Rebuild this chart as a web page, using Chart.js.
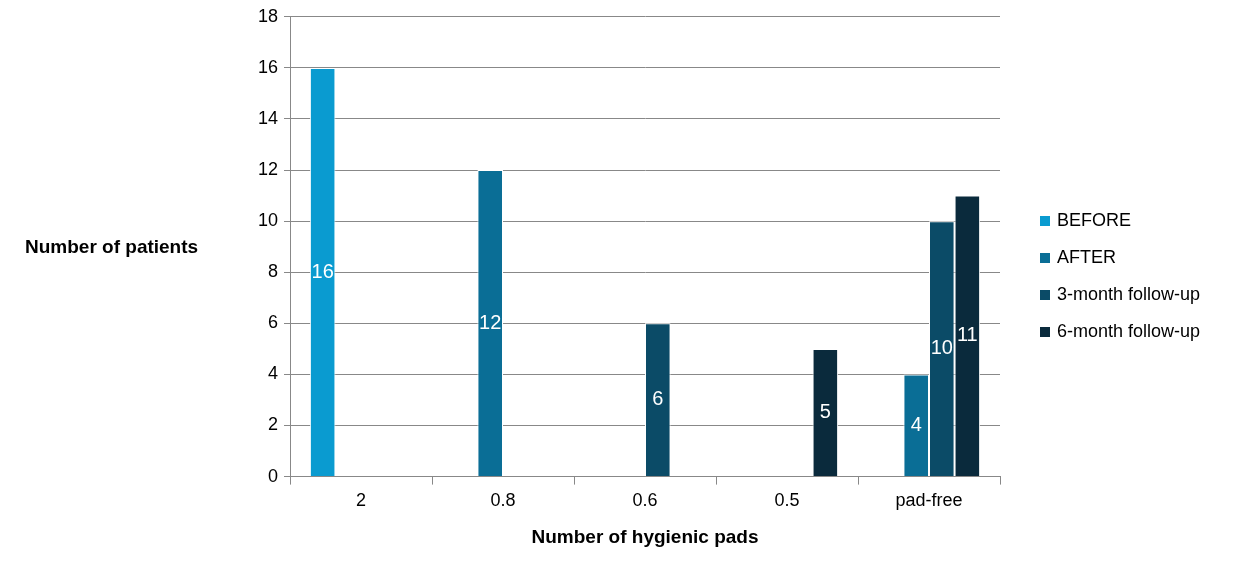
<!DOCTYPE html>
<html><head><meta charset="utf-8">
<script src="https://cdn.jsdelivr.net/npm/chart.js@4"></script>
<style>body{margin:0;background:#fff}#w{width:1260px;height:573px}</style>
</head><body><div id="w"><canvas id="c"></canvas></div>
<script>
const categories=['2','0.8','0.6','0.5','pad-free'];
const seriesNames=['BEFORE','AFTER','3-month follow-up','6-month follow-up'];
const before=[16,null,null,null,null];
const after=[null,12,null,null,4];
const m3=[null,null,6,null,10];
const m6=[null,null,null,5,11];
const colors=['#0a9bd0','#0a6e96','#0b4b67','#0a2a3c'];
const FONT='"Liberation Sans", Arial, sans-serif';
const extras={id:'extras',afterDatasetsDraw(ch){
  const c=ch.ctx;c.save();
  c.fillStyle='#fff';c.font='20px '+FONT;c.textAlign='center';c.textBaseline='middle';
  ch.data.datasets.forEach((d,i)=>{ch.getDatasetMeta(i).data.forEach((b,j)=>{
    if(d.data[j]==null)return;c.fillText(String(d.data[j]),b.x,(b.y+b.base)/2);});});
  c.fillStyle='#000';c.font='bold 19px '+FONT;c.textAlign='left';
  c.fillText('Number of patients',25,248);
  c.font='18px '+FONT;
  seriesNames.forEach((n,i)=>{const y=221+i*37;c.fillStyle=colors[i];c.fillRect(1040,y-5,10,10);
    c.fillStyle='#000';c.fillText(n,1057,y);});
  c.restore();}};
new Chart(document.getElementById('c'),{type:'bar',
 data:{labels:categories,datasets:[before,after,m3,m6].map((d,i)=>({label:seriesNames[i],data:d,backgroundColor:colors[i],borderColor:'#fff',borderWidth:1,borderSkipped:'bottom',grouped:true}))},
 options:{responsive:true,maintainAspectRatio:false,animation:false,
  layout:{padding:{top:14,right:260,bottom:20,left:0}},
  categoryPercentage:0.72,barPercentage:1,
  plugins:{legend:{display:false},tooltip:{enabled:false}},
  scales:{
   x:{grid:{display:true,offset:true,drawOnChartArea:false,tickLength:8,color:'#888'},border:{color:'#888'},
      ticks:{color:'#000',font:{family:FONT,size:18},padding:6},
      title:{display:true,text:'Number of hygienic pads',color:'#000',font:{family:FONT,size:19,weight:'bold'},padding:{top:8}}},
   y:{min:0,max:18,afterFit(s){s.width=290;},grid:{color:'#888',tickLength:6},border:{color:'#888'},
      ticks:{stepSize:2,color:'#000',font:{family:FONT,size:18},padding:6}}}},
 plugins:[extras]});
</script></body></html>
